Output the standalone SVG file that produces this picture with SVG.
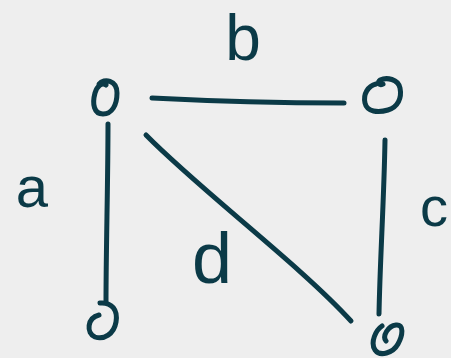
<svg xmlns="http://www.w3.org/2000/svg" width="451" height="358" viewBox="0 0 451 358">
  <style>
    .ink { fill: none; stroke: #0b3a47; stroke-width: 5; stroke-linecap: round; stroke-linejoin: round; }
    .lbl { fill: #0b3a47; font-family: "Liberation Sans", Arial, sans-serif; text-anchor: middle; }
  </style>
  <rect width="451" height="358" fill="#eeeeee"/>
  <g id="connectors">
    <path id="edge-a" class="ink" d="M108,124 C108,180 106,250 106,302"/>
    <path id="edge-b" class="ink" d="M152,98 C210,101 290,103 344,103"/>
    <path id="edge-c" class="ink" d="M385,140 C384,200 380,260 379,314"/>
    <path id="edge-d" class="ink" d="M146,135 C200,190 300,265 351,321"/>
  </g>
  <g id="labels">
    <text class="lbl" x="32" y="207" font-size="58">a</text>
    <text class="lbl" x="243" y="60" font-size="64">b</text>
    <text class="lbl" x="434" y="226" font-size="56">c</text>
    <text class="lbl" x="212" y="283" font-size="72">d</text>
  </g>
  <g id="node-top-left">
    <path class="ink" d="M99,84 C104,78 117,80 117,93 C117,105 112,114 103,114 C94,114 92,104 95,93 C97,86 102,82 106,85"/>
  </g>
  <g id="node-top-right">
    <path class="ink" d="M376,84 C368,86 363,94 365,103 C367,112 378,113 388,110 C398,107 402,98 400,88 C398,79 387,77 380,80 C377,82 379,86 383,84"/>
  </g>
  <g id="node-bottom-left">
    <path class="ink" d="M100,303 C112,302 118,310 116,322 C114,334 104,340 95,337 C86,333 87,318 99,315"/>
  </g>
  <g id="node-bottom-right">
    <path class="ink" d="M386,341 C382,336 388,326 396,325 C404,324 403,335 398,344 C393,353 380,357 375,350 C370,342 376,330 382,326"/>
  </g>
</svg>
